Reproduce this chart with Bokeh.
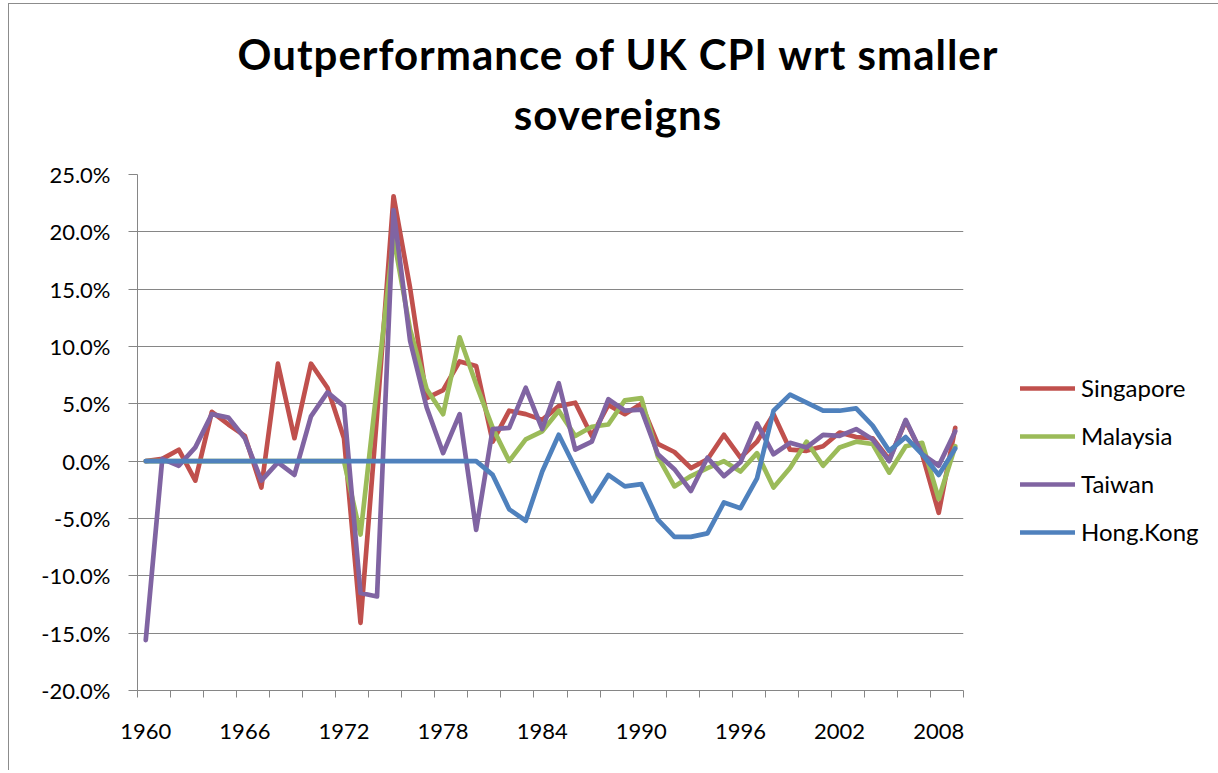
from bokeh.plotting import figure
from bokeh.models import (ColumnDataSource, Legend, LegendItem, FixedTicker,
                          NumeralTickFormatter, Range1d, Div)
from bokeh.layouts import column
from bokeh.embed import file_html
from bokeh.resources import INLINE

years = list(range(1960, 2010))

singapore = [0.0, 0.2, 1.0, -1.7, 4.3, 3.2, 2.2, -2.3, 8.5, 2.0,
             8.5, 6.4, 2.0, -14.1, 4.0, 23.1, 15.1, 5.5, 6.2, 8.7,
             8.3, 1.7, 4.4, 4.1, 3.6, 4.8, 5.1, 2.2, 4.9, 4.1,
             5.0, 1.5, 0.8, -0.6, 0.15, 2.3, 0.3, 1.7, 4.1, 1.0,
             0.9, 1.3, 2.5, 2.1, 2.0, 0.15, 3.5, 0.6, -4.5, 2.9]

malaysia = [0.0, 0.0, 0.0, 0.0, 0.0, 0.0, 0.0, 0.0, 0.0, 0.0,
            0.0, 0.0, 0.0, -6.4, 6.5, 19.5, 11.5, 6.3, 4.1, 10.8,
            6.7, 2.9, 0.0, 1.9, 2.6, 4.4, 2.2, 3.0, 3.2, 5.3,
            5.5, 0.4, -2.2, -1.3, -0.6, 0.0, -0.9, 0.7, -2.3, -0.6,
            1.7, -0.4, 1.2, 1.7, 1.5, -1.0, 1.3, 1.6, -3.3, 1.3]

taiwan = [-15.6, 0.2, -0.4, 1.2, 4.1, 3.8, 2.0, -1.7, -0.1, -1.2,
          3.9, 6.0, 4.8, -11.5, -11.8, 21.9, 10.5, 4.7, 0.7, 4.1,
          -6.0, 2.8, 2.9, 6.4, 2.8, 6.8, 1.0, 1.7, 5.4, 4.4,
          4.5, 0.6, -0.7, -2.6, 0.3, -1.3, -0.1, 3.3, 0.6, 1.6,
          1.2, 2.3, 2.2, 2.8, 1.9, 0.0, 3.6, 0.6, -0.4, 2.6]

hong_kong = [0.0, 0.0, 0.0, 0.0, 0.0, 0.0, 0.0, 0.0, 0.0, 0.0,
             0.0, 0.0, 0.0, 0.0, 0.0, 0.0, 0.0, 0.0, 0.0, 0.0,
             0.0, -1.2, -4.2, -5.2, -0.9, 2.3, -0.6, -3.5, -1.2, -2.2,
             -2.0, -5.1, -6.6, -6.6, -6.3, -3.6, -4.1, -1.5, 4.4, 5.8,
             5.1, 4.4, 4.4, 4.6, 3.1, 0.9, 2.1, 0.6, -1.2, 1.1]

series_names = ["Singapore", "Malaysia", "Taiwan", "Hong.Kong"]
series_values = [singapore, malaysia, taiwan, hong_kong]
series_colors = ["#C0504D", "#9BBB59", "#8064A2", "#4F81BD"]

x_tick_labels = [1960, 1966, 1972, 1978, 1984, 1990, 1996, 2002, 2008]
y_ticks = [-20, -15, -10, -5, 0, 5, 10, 15, 20, 25]

title_lines = ["Outperformance of UK CPI wrt smaller", "sovereigns"]

FONT = "Lato"
GRAY = "#868686"

title_div = Div(
    text=('<div style="padding-top:15px; font-family:Lato; font-weight:bold; '
          'font-size:42px; letter-spacing:1px; line-height:60px; '
          'text-align:center; color:black; width:1208px;">'
          + "<br>".join(title_lines) + '</div>'),
    width=1208, height=140)

p = figure(frame_width=826, frame_height=516,
           min_border_left=128, min_border_right=240,
           min_border_top=20, min_border_bottom=80,
           output_backend="svg", toolbar_location=None,
           x_range=Range1d(years[0] - 0.5, years[-1] + 0.5),
           y_range=Range1d(y_ticks[0] / 100, y_ticks[-1] / 100))
p.outline_line_color = None
p.background_fill_color = "white"
p.border_fill_color = "white"

# axes
p.xaxis.ticker = FixedTicker(ticks=x_tick_labels,
                             minor_ticks=[years[0] - 0.5 + 2 * k for k in range(26)])
p.xaxis.major_tick_out = 0
p.xaxis.major_tick_in = 0
p.xaxis.minor_tick_out = 7
p.xaxis.minor_tick_in = 0
p.xaxis.minor_tick_line_color = GRAY
p.xaxis.axis_line_color = GRAY
p.xaxis.major_label_text_font = FONT
p.xaxis.major_label_text_font_size = "22px"
p.xaxis.major_label_text_color = "black"
p.xaxis.major_label_standoff = 26

p.yaxis.ticker = FixedTicker(ticks=[v / 100 for v in y_ticks])
p.yaxis.formatter = NumeralTickFormatter(format="0.0%")
p.yaxis.major_tick_out = 9
p.yaxis.major_tick_in = 0
p.yaxis.minor_tick_line_color = None
p.yaxis.major_tick_line_color = GRAY
p.yaxis.axis_line_color = GRAY
p.yaxis.major_label_text_font = FONT
p.yaxis.major_label_text_font_size = "22px"
p.yaxis.major_label_text_color = "black"
p.yaxis.major_label_standoff = 18

p.xgrid.grid_line_color = None
p.ygrid.ticker = FixedTicker(ticks=[v / 100 for v in y_ticks])
p.ygrid.grid_line_color = GRAY
p.ygrid.grid_line_width = 1.2

items = []
for name, vals, col in zip(series_names, series_values, series_colors):
    src = ColumnDataSource(dict(x=years, y=[v / 100 for v in vals]))
    r = p.line("x", "y", source=src, line_color=col, line_width=4.7,
               line_join="round", line_cap="round")
    items.append(LegendItem(label=name, renderers=[r]))

legend = Legend(items=items, location=(57, 144),
                glyph_width=55, glyph_height=20, label_height=20,
                label_standoff=6, spacing=19, padding=0, margin=0,
                border_line_color=None, background_fill_alpha=0,
                label_text_font=FONT, label_text_font_size="24px",
                label_text_color="black")
p.add_layout(legend, "right")

layout = column(title_div, p,
                styles={"border-left": "1px solid #8c8c8c",
                        "border-top": "1px solid #8c8c8c",
                        "margin-left": "8px", "margin-top": "3px"})
open("out.html", "w").write(file_html(layout, INLINE))
